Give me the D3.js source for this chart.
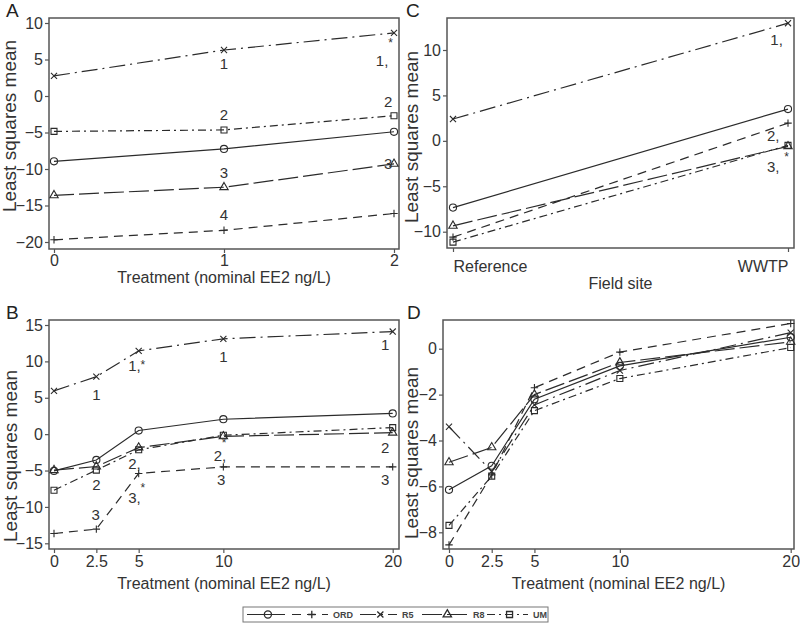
<!DOCTYPE html>
<html>
<head>
<meta charset="utf-8">
<script src="https://cdn.jsdelivr.net/npm/d3@7"></script>
<style>
  body { margin: 0; background: #fff; }
  svg { font-family: "Liberation Sans", Arial, sans-serif; }
</style>
</head>
<body>
<svg id="chart" width="800" height="625"></svg>
<script>
// series order: circle (unlabelled), ORD, R5, R8, UM
const seriesLabels = ["", "ORD", "R5", "R8", "UM"];

// panel A: lab treatment, 3 doses
const dosesA = [0, 1, 2];
const valuesA = [
  [-8.95, -7.25, -4.9],
  [-19.7, -18.4, -16.1],
  [2.75, 6.3, 8.65],
  [-13.6, -12.5, -9.3],
  [-4.85, -4.65, -2.7]
];
const notesA = [
  [1, 4.4, "1"], [1.93, 4.8, "1,"], [1.98, 7.7, "*"],
  [1, -2.6, "2"], [1.965, -0.8, "2"],
  [1, -10.55, "3"], [1.965, -9.2, "3"],
  [1, -16.3, "4"]
];

// panel B
const dosesB = [0, 2.5, 5, 10, 20];
const valuesB = [
  [-5.05, -3.55, 0.5, 2.05, 2.85],
  [-13.65, -13.05, -5.4, -4.5, -4.5],
  [5.95, 7.9, 11.45, 13.1, 14.1],
  [-4.95, -4.45, -1.85, -0.3, 0.2],
  [-7.7, -4.95, -2.15, -0.15, 0.9]
];
const notesB = [
  [2.5, 5.5, "1"], [4.75, 9.4, "1,"], [5.24, 9.95, "*"], [10, 10.6, "1"], [19.55, 12.3, "1"],
  [2.5, -6.9, "2"], [4.75, -4.1, "2,"], [9.8, -2.9, "2,"], [10.04, -0.8, "*"], [19.55, -1.85, "2"],
  [2.46, -11.0, "3"], [4.75, -8.7, "3,"], [5.24, -6.9, "*"], [9.87, -6.2, "3"], [19.55, -6.2, "3"]
];

// panel C: field sites
const sites = ["Reference", "WWTP"];
const valuesC = [
  [-7.35, 3.5],
  [-10.6, 1.95],
  [2.4, 12.95],
  [-9.35, -0.6],
  [-11.15, -0.5]
];
const notesC = [
  [0.966, 11.1, "1,"], [0.956, 0.55, "2,"], [0.996, -1.45, "*"], [0.956, -2.85, "3,"]
];

// panel D
const dosesD = [0, 2.5, 5, 10, 20];
const valuesD = [
  [-6.15, -5.1, -2.2, -0.75, 0.5],
  [-8.55, -5.5, -1.7, -0.15, 1.1],
  [-3.4, -5.35, -2.45, -0.95, 0.7],
  [-4.95, -4.3, -2.0, -0.6, 0.3],
  [-7.7, -5.55, -2.7, -1.3, 0.05]
];

const yTicksA = [-20, -15, -10, -5, 0, 5, 10];
const yTicksB = [-15, -10, -5, 0, 5, 10, 15];
const yTicksC = [-10, -5, 0, 5, 10];
const yTicksD = [-8, -6, -4, -2, 0];
const doseTicks = [0, 2.5, 5, 10, 20];

const INK = "#2b2b2b";
const DASHES = [null, "9,6", "16,5,2,5", "20,5", "8,4,2,4"];
const SYMBOLS = [
  d3.symbol(d3.symbolCircle, 40),
  d3.symbol(d3.symbolPlus, 20),
  d3.symbol(d3.symbolTimes, 26),
  d3.symbol(d3.symbolTriangle2, 50),
  d3.symbol(d3.symbolSquare2, 46)
];

const svg = d3.select("#chart");

function drawPanel(p) {
  const g = svg.append("g");

  g.append("rect")
      .attr("x", p.box[0]).attr("y", p.box[1])
      .attr("width", p.box[2] - p.box[0]).attr("height", p.box[3] - p.box[1])
      .attr("fill", "none").attr("stroke", "#555").attr("stroke-width", 1.5);

  const yAxis = g.append("g")
      .attr("transform", "translate(" + p.box[0] + ",0)")
      .call(d3.axisLeft(p.y).tickValues(p.yTicks).tickSize(4).tickPadding(2));
  const xAxis = g.append("g")
      .attr("transform", "translate(0," + p.box[3] + ")")
      .call(d3.axisBottom(p.x).tickValues(p.xTicks).tickSize(4).tickPadding(p.xPad)
              .tickFormat(p.xFormat));
  [yAxis, xAxis].forEach(a => {
    a.select(".domain").remove();
    a.selectAll("line").attr("stroke", "#555").attr("stroke-width", 1.2);
    a.selectAll("text").attr("fill", "#333").attr("font-size", "16px")
        .attr("font-family", "Liberation Sans, Arial, sans-serif");
  });
  if (p.xAnchors) {
    xAxis.selectAll("text").attr("text-anchor", (d, i) => p.xAnchors[i]);
  }

  const line = d3.line()
      .x((d, i) => p.x(p.xs[i]))
      .y(d => p.y(d));

  p.values.forEach((vals, s) => {
    g.append("path")
        .attr("d", line(vals))
        .attr("fill", "none")
        .attr("stroke", INK)
        .attr("stroke-width", 1.2)
        .attr("stroke-dasharray", DASHES[s]);
    g.selectAll(null)
        .data(vals)
        .enter()
        .append("path")
            .attr("d", SYMBOLS[s])
            .attr("transform", (d, i) => "translate(" + p.x(p.xs[i]) + "," + p.y(d) + ")")
            .attr("fill", "none")
            .attr("stroke", INK)
            .attr("stroke-width", 1.1);
  });

  g.selectAll(null)
      .data(p.notes)
      .enter()
      .append("text")
          .attr("x", d => p.x(d[0]))
          .attr("y", d => p.y(d[1]))
          .attr("dy", d => d[2] === "*" ? "0.6em" : "0.36em")
          .attr("text-anchor", "middle")
          .attr("font-size", d => d[2] === "*" ? "12px" : "15px")
          .attr("fill", "#333")
          .text(d => d[2]);

  g.append("text")
      .attr("x", (p.box[0] + p.box[2]) / 2)
      .attr("y", p.box[3] + p.titleGap)
      .attr("text-anchor", "middle")
      .attr("font-size", "16px")
      .attr("fill", "#333")
      .text(p.xTitle);

  g.append("text")
      .attr("transform", "translate(" + p.yTitleX + "," + p.yTitleY + ") rotate(-90)")
      .attr("text-anchor", "middle")
      .attr("font-size", "19px")
      .attr("fill", "#333")
      .text("Least squares mean");

  g.append("text")
      .attr("x", p.letter[0]).attr("y", p.letter[1])
      .attr("font-size", "19px")
      .attr("fill", "#222")
      .text(p.name);
}

const treatTitle = "Treatment (nominal EE2 ng/L)";

drawPanel({
  name: "A", letter: [6, 17], box: [49, 18, 399, 249],
  x: d3.scaleLinear().domain([0, 2]).range([54, 394]),
  y: d3.scaleLinear().domain([-20, 10]).range([242, 23]),
  xs: dosesA, values: valuesA, notes: notesA,
  yTicks: yTicksA, xTicks: dosesA, xFormat: d3.format("d"), xPad: 2,
  xTitle: treatTitle, titleGap: 34, yTitleX: 16, yTitleY: 126
});

drawPanel({
  name: "B", letter: [6, 319], box: [49, 320, 399, 549],
  x: d3.scaleLinear().domain([0, 20]).range([54, 392.7]),
  y: d3.scaleLinear().domain([-15, 15]).range([543.3, 325]),
  xs: dosesB, values: valuesB, notes: notesB,
  yTicks: yTicksB, xTicks: doseTicks, xFormat: d => String(d), xPad: 3,
  xTitle: treatTitle, titleGap: 40, yTitleX: 17, yTitleY: 456
});

drawPanel({
  name: "C", letter: [406, 17], box: [447, 18, 794, 248],
  x: d3.scaleLinear().domain([0, 1]).range([453, 788]),
  y: d3.scaleLinear().domain([-10, 10]).range([231.7, 50]),
  xs: [0, 1], values: valuesC, notes: notesC,
  yTicks: yTicksC, xTicks: [0, 1], xFormat: i => sites[i], xPad: 9,
  xAnchors: ["start", "end"],
  xTitle: "Field site", titleGap: 41, yTitleX: 418, yTitleY: 137
});

drawPanel({
  name: "D", letter: [407, 319], box: [443, 320, 794, 549],
  x: d3.scaleLinear().domain([0, 20]).range([449, 790.7]),
  y: d3.scaleLinear().domain([-8, 0]).range([532.3, 348.7]),
  xs: dosesD, values: valuesD, notes: [],
  yTicks: yTicksD, xTicks: doseTicks, xFormat: d => String(d), xPad: 3,
  xTitle: treatTitle, titleGap: 40, yTitleX: 418, yTitleY: 453
});

// legend
const legendStart = [247, 292, 360, 422, 487];
const legendWidth = [38, 36, 37, 46, 41];
const legend = svg.append("g");
legend.append("rect")
    .attr("x", 243).attr("y", 607).attr("width", 305).attr("height", 15)
    .attr("fill", "none").attr("stroke", "#777").attr("stroke-width", 1);
seriesLabels.forEach((lab, s) => {
  const x0 = legendStart[s], w = legendWidth[s], yc = 614.5;
  legend.append("line")
      .attr("x1", x0).attr("x2", x0 + w).attr("y1", yc).attr("y2", yc)
      .attr("stroke", INK).attr("stroke-width", 1.2)
      .attr("stroke-dasharray", DASHES[s]);
  legend.append("path")
      .attr("d", SYMBOLS[s])
      .attr("transform", "translate(" + (x0 + w * 0.55) + "," + yc + ")")
      .attr("fill", "none").attr("stroke", INK).attr("stroke-width", 1.3);
  legend.append("text")
      .attr("x", x0 + w + 5).attr("y", yc + 3)
      .attr("font-size", "9px").attr("font-weight", "bold")
      .attr("fill", "#444")
      .text(lab);
});
</script>
</body>
</html>
